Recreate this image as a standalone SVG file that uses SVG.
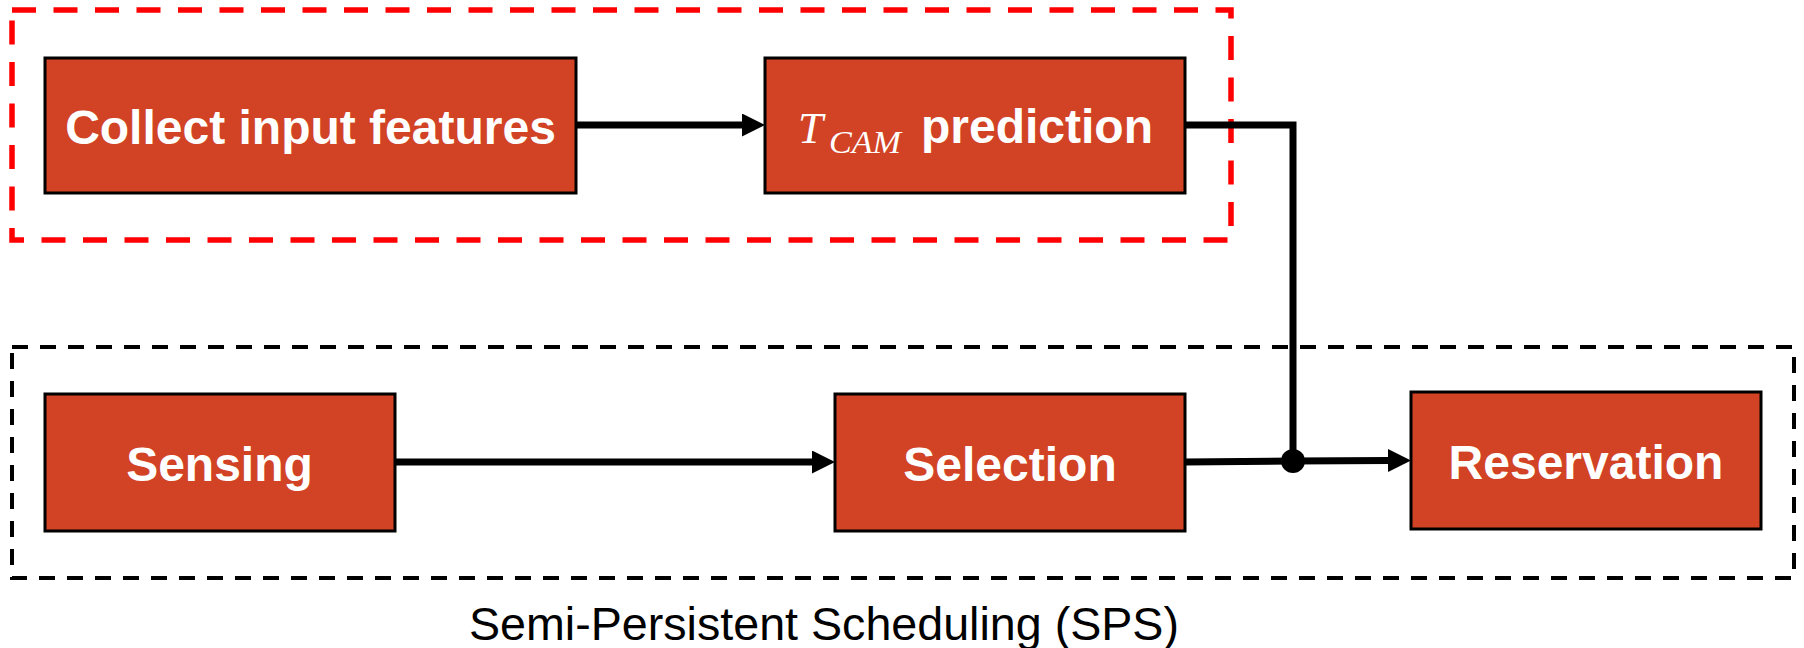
<svg xmlns="http://www.w3.org/2000/svg" width="1804" height="648" viewBox="0 0 1804 648">
  <style>
    .box { fill: #D14324; stroke: #000; stroke-width: 3; }
    .lbl { font-family: "Liberation Sans", Arial, sans-serif; font-weight: bold; font-size: 48px; fill: #fff; }
    .math { font-family: "Liberation Serif", "DejaVu Serif", serif; font-style: italic; fill: #fff; }
    .wire { fill: none; stroke: #000; stroke-width: 7; }
    .cap { font-family: "Liberation Sans", Arial, sans-serif; font-size: 46.5px; fill: #000; }
  </style>
  <defs>
    <marker id="arrow" markerUnits="userSpaceOnUse" markerWidth="23" markerHeight="23" viewBox="0 0 23 23" refX="2" refY="11.5" orient="auto">
      <path d="M0,0 L23,11.5 L0,23 Z" fill="#000"/>
    </marker>
  </defs>

  <!-- group frames -->
  <g id="frames">
    <rect x="12" y="10" width="1219" height="230" fill="none" stroke="#FF0000" stroke-width="5.5" stroke-dasharray="24 17.5"/>
    <rect x="12" y="347" width="1782" height="231" fill="none" stroke="#000" stroke-width="4" stroke-dasharray="16 12"/>
  </g>

  <!-- connectors -->
  <g id="connectors">
    <path class="wire" d="M576,125 L744,125" marker-end="url(#arrow)"/>
    <path class="wire" d="M395,462 L814,462" marker-end="url(#arrow)"/>
    <path class="wire" d="M1185,125 L1293,125 L1293,461"/>
    <path class="wire" d="M1185,462 L1293,461 L1390,460.5" marker-end="url(#arrow)"/>
    <circle cx="1293" cy="461" r="12" fill="#000"/>
  </g>

  <g id="collect">
    <rect class="box" x="45" y="58" width="531" height="135"/>
    <text class="lbl" x="310.5" y="144" text-anchor="middle">Collect input features</text>
  </g>

  <g id="tcam">
    <rect class="box" x="765" y="58" width="420" height="135"/>
    <text class="math" x="798" y="143" font-size="45">T</text>
    <text class="math" x="829" y="153" font-size="31" textLength="72" lengthAdjust="spacingAndGlyphs">CAM</text>
    <text class="lbl" x="921" y="143">prediction</text>
  </g>

  <g id="sensing">
    <rect class="box" x="45" y="394" width="350" height="137"/>
    <text class="lbl" x="219.5" y="481" text-anchor="middle">Sensing</text>
  </g>

  <g id="selection">
    <rect class="box" x="835" y="394" width="350" height="137"/>
    <text class="lbl" x="1010" y="481" text-anchor="middle">Selection</text>
  </g>

  <g id="reservation">
    <rect class="box" x="1411" y="392" width="350" height="137"/>
    <text class="lbl" x="1586" y="479" text-anchor="middle" font-size="47">Reservation</text>
  </g>

  <text class="cap" x="824" y="640" text-anchor="middle" textLength="710" lengthAdjust="spacingAndGlyphs">Semi-Persistent Scheduling (SPS)</text>
</svg>
